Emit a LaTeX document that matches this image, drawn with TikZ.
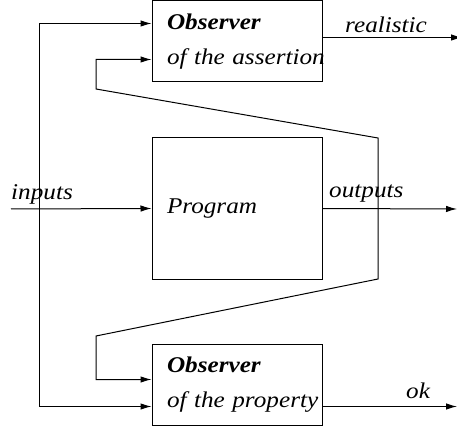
\documentclass[tikz,border=0pt]{standalone}
\usepackage{fontspec}
\setmainfont{Liberation Serif}[FakeStretch=1.12]
\usepackage{tikz}
\usetikzlibrary{positioning,arrows.meta}
\tikzset{block node/.style={draw,rectangle,line width=1pt,minimum width=170pt,inner xsep=15pt,inner ysep=0pt,text width=140pt,align=left},}
\tikzset{label node/.style={inner sep=0pt,anchor=base west},}
\tikzset{arrow wire/.style={line width=1pt,-{Latex[length=11pt,width=6.5pt]}},}

\begin{document}
\begin{tikzpicture}[x=1pt,y=-1pt,font=\fontsize{22.5}{35}\selectfont\itshape]
       \useasboundingbox (0,0) rectangle (457,427);
       \node[block node,minimum height=141pt] (prog) at (237,208.5) {Program};
       \node[block node,minimum height=81pt] (obsA) [above = 55pt of prog] {\textbf{Observer}\\\mbox{of the assertion}};
       \node[block node,minimum height=81pt] (obsP) [below = 64pt of prog] {\textbf{Observer}\\\mbox{of the property}};

       \node[label node] (inputs) at (11,200) {inputs};
       \node[label node] (outputs) at (329,198) {outputs};
       \node[label node] (realistic) at (345,33) {realistic};
       \node[label node] (ok) at (406,398) {ok};

       \coordinate (inL) at (11,209);
       \coordinate (split) at (39,209);
       \coordinate (outR) at (457,209);
       \coordinate (tap) at (378,209);
       \coordinate (tapUp) at (378,138);
       \coordinate (tapDown) at (378,279);
       \coordinate (bendA) at (96,89);
       \coordinate (bendP) at (96,336);
       \coordinate (obsAin1) at ([yshift=-23pt]obsA.north west);
       \coordinate (obsAin2) at ([yshift=-59pt]obsA.north west);
       \coordinate (obsPin1) at ([yshift=-36pt]obsP.north west);
       \coordinate (obsPin2) at ([yshift=-63pt]obsP.north west);
       \coordinate (obsAout) at ([yshift=-37pt]obsA.north east);
       \coordinate (obsPout) at ([yshift=-63pt]obsP.north east);
       \coordinate (realR) at (462,0 |- obsAout);
       \coordinate (okR) at (457,0 |- obsPout);

       \draw[arrow wire] (inL) -- (prog.west);
       \draw[arrow wire] (prog.east) -- (outR);
       \draw[arrow wire] (split) |- (obsAin1);
       \draw[arrow wire] (split) |- (obsPin2);
       \draw[arrow wire] (tap) -- (tapUp) -- (bendA) |- (obsAin2);
       \draw[arrow wire] (tap) -- (tapDown) -- (bendP) |- (obsPin1);
       \draw[arrow wire] (obsAout) -- (realR);
       \draw[arrow wire] (obsPout) -- (okR);
    \end{tikzpicture}
\end{document}
